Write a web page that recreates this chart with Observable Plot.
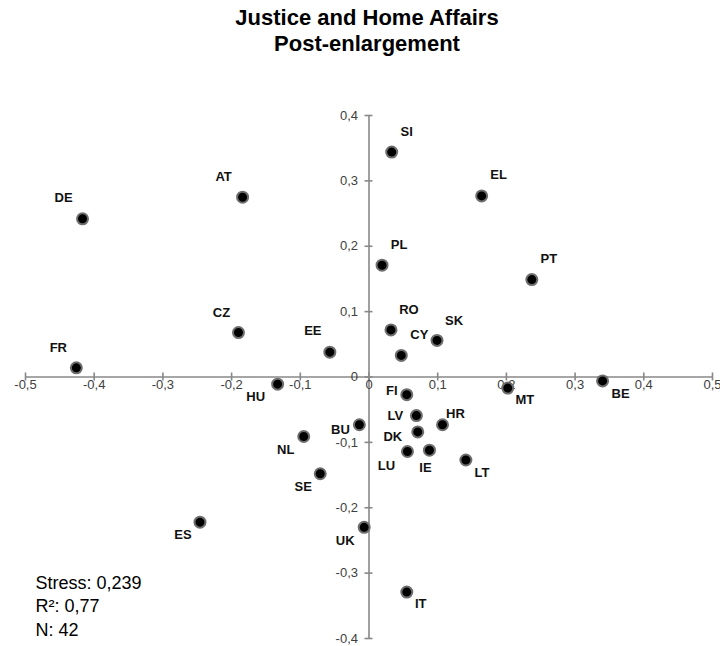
<!DOCTYPE html>
<html>
<head>
<meta charset="utf-8">
<script src="https://cdn.jsdelivr.net/npm/d3@7"></script>
<script src="https://cdn.jsdelivr.net/npm/@observablehq/plot@0.6"></script>
<style>
  body { margin: 0; background: #fff; font-family: "Liberation Sans", Arial, sans-serif; }
  #title { width: 720px; height: 60px; box-sizing: border-box; padding: 5px 0 0 14px; text-align: center;
           font-weight: bold; font-size: 22px; line-height: 26px; color: #000; }
  #chart svg { display: block; }
</style>
</head>
<body>
<div id="title"></div>
<div id="chart"></div>
<script>
const titleLines = ["Justice and Home Affairs", "Post-enlargement"];
const countries = ["DE","AT","CZ","EE","FR","SI","EL","PL","PT","RO","SK","CY","HU","BU","NL","SE","ES","UK","FI","MT","BE","LV","HR","DK","LU","IE","LT","IT"];
const dim1 = [-0.417,-0.184,-0.190,-0.057,-0.426,0.033,0.164,0.019,0.237,0.032,0.099,0.047,-0.133,-0.014,-0.095,-0.071,-0.246,-0.007,0.055,0.202,0.340,0.069,0.107,0.071,0.056,0.088,0.141,0.055];
const dim2 = [0.242,0.275,0.068,0.038,0.014,0.344,0.277,0.171,0.149,0.072,0.056,0.033,-0.011,-0.073,-0.091,-0.148,-0.222,-0.230,-0.027,-0.017,-0.006,-0.059,-0.073,-0.084,-0.114,-0.112,-0.127,-0.329];
const xTicks = [-0.5,-0.4,-0.3,-0.2,-0.1,0,0.1,0.2,0.3,0.4,0.5];
const yTicks = [-0.4,-0.3,-0.2,-0.1,0,0.1,0.2,0.3,0.4];
const statsLines = ["Stress: 0,239", "R\u00B2: 0,77", "N: 42"];

// label placement relative to each dot (pixels)
const labelOffset = {
  DE:[-19,-21], AT:[-19,-20], CZ:[-17,-20], EE:[-17,-21], FR:[-18,-20],
  SI:[15,-20], EL:[17,-21], PL:[17,-20], PT:[17,-21], RO:[18,-20], SK:[17,-20], CY:[18,-21],
  HU:[-22,13], BU:[-19,5], NL:[-18,13], SE:[-17,13], ES:[-17,13], UK:[-19,13],
  FI:[-15,-4], MT:[17,12], BE:[18,13], LV:[-21,0], HR:[13,-11], DK:[-25,5],
  LU:[-21,14], IE:[-4,18], LT:[16,13], IT:[14,12]
};

document.getElementById("title").innerHTML = titleLines.join("<br>");

const points = countries.map((c, i) => ({c, x: dim1[i], y: dim2[i]}));
const fmt = v => String(v).replace(".", ",");
const axisColor = "#888888";
const tickColor = "#404040";

const chart = Plot.plot({
  width: 720,
  height: 586,
  marginTop: 55,
  marginBottom: 8,
  marginLeft: 25,
  marginRight: 8,
  style: {fontFamily: "'Liberation Sans', Arial, sans-serif", fontSize: "13px", background: "#fff"},
  x: {domain: [-0.5, 0.5], axis: null},
  y: {domain: [-0.4, 0.4], axis: null},
  marks: [
    Plot.ruleY([0], {stroke: axisColor, strokeWidth: 1.6}),
    Plot.ruleX([0], {stroke: axisColor, strokeWidth: 1.6}),
    Plot.ruleX(xTicks, {x: d => d, y1: () => 0, y2: () => 0, insetTop: -4, insetBottom: -4, stroke: axisColor, strokeWidth: 1.6}),
    Plot.ruleY(yTicks, {y: d => d, x1: () => 0, x2: () => 0, insetLeft: -4, insetRight: -4, stroke: axisColor, strokeWidth: 1.6}),
    Plot.text(xTicks, {x: d => d, y: () => 0, text: fmt, dy: 8, lineAnchor: "middle", textAnchor: "middle", fontSize: 13, fill: tickColor}),
    Plot.text(yTicks, {x: () => 0, y: d => d, text: fmt, dx: -11, lineAnchor: "middle", textAnchor: "end", fontSize: 13, fill: tickColor}),
    Plot.dot(points, {x: "x", y: "y", r: 5.5, fill: "#000", stroke: "#6e6e6e", strokeWidth: 2}),
    ...points.map(p => Plot.text([p], {
      x: "x", y: "y", text: "c",
      dx: labelOffset[p.c][0], dy: labelOffset[p.c][1],
      lineAnchor: "middle", textAnchor: "middle",
      fontWeight: "bold", fontSize: 13, fill: "#111"
    })),
    Plot.text([statsLines.join("\n")], {
      frameAnchor: "bottom-left", text: d => d, dx: 10, dy: -3,
      textAnchor: "start", lineAnchor: "bottom", lineHeight: 1.28,
      fontSize: 18, fill: "#000"
    })
  ]
});
document.getElementById("chart").appendChild(chart);
</script>
</body>
</html>
